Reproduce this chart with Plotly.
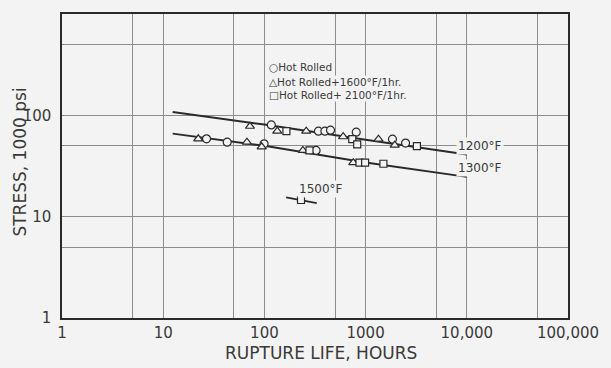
import plotly.graph_objects as go

# ---------------- data ----------------
# 1200 F test temperature
hr_1200_x = [117, 342, 396, 450, 808, 1842, 2483]
hr_1200_y = [80.4, 69.7, 69.7, 71.3, 68.2, 58.2, 53.2]
t16_1200_x = [72, 134, 259, 600, 1340, 1940]
t16_1200_y = [78, 69.7, 69.7, 61.5, 58.2, 50.8]
t21_1200_x = [165, 738, 826, 3214]
t21_1200_y = [69.7, 58.2, 51.6, 49.7]
fit_1200_x = [12.4, 100, 1000, 10000]
fit_1200_y = [108, 81, 57.5, 41]

# 1300 F test temperature
hr_1300_x = [26.8, 42.9, 99.3, 324]
hr_1300_y = [58.6, 54.4, 52.3, 45.1]
t16_1300_x = [22.2, 67.2, 94, 240, 755]
t16_1300_y = [58.6, 54.4, 48.9, 45.1, 34.1]
t21_1300_x = [279, 870, 989, 1500]
t21_1300_y = [45.1, 34.1, 34.1, 33.3]
fit_1300_x = [12.4, 100, 1000, 10000]
fit_1300_y = [66, 50, 34.3, 24.7]

# 1500 F test temperature
t21_1500_x = [230]
t21_1500_y = [14.6]
fit_1500_x = [164, 329]
fit_1500_y = [15.5, 13.6]

x_tickvals = [1, 5, 10, 50, 100, 500, 1000, 5000, 10000, 50000, 100000]
x_ticktext = ["1", "", "10", "", "100", "", "1000", "", "10,000", "", "100,000"]
y_tickvals = [1, 5, 10, 50, 100, 500, 1000]
y_ticktext = ["1", "", "10", "", "100", "", ""]

legend_labels = ["○Hot Rolled", "△Hot Rolled+1600°F/1hr.", "□Hot Rolled+ 2100°F/1hr."]
temp_labels = ["1200°F", "1300°F", "1500°F"]

# ---------------- styling ----------------
BG = "#f3f3f3"
INK = "#2a2a2a"
TXT = "#3a3a3a"
GRID = "#8c8c8c"
FONT = "DejaVu Sans"

fig = go.Figure()

for fx, fy in [(fit_1200_x, fit_1200_y), (fit_1300_x, fit_1300_y), (fit_1500_x, fit_1500_y)]:
    fig.add_trace(go.Scatter(x=fx, y=fy, mode="lines",
                             line=dict(color=INK, width=2), showlegend=False,
                             hoverinfo="skip"))

def pts(x, y, sym, size):
    fig.add_trace(go.Scatter(x=x, y=y, mode="markers", showlegend=False,
                             marker=dict(symbol=sym, size=size, color=BG,
                                         line=dict(color=INK, width=1.2))))

pts(hr_1200_x, hr_1200_y, "circle", 8)
pts(t16_1200_x, t16_1200_y, "triangle-up", 8)
pts(t21_1200_x, t21_1200_y, "square", 7)
pts(hr_1300_x, hr_1300_y, "circle", 8)
pts(t16_1300_x, t16_1300_y, "triangle-up", 8)
pts(t21_1300_x, t21_1300_y, "square", 7)
pts(t21_1500_x, t21_1500_y, "square", 7)

axis_common = dict(type="log", showgrid=True, gridcolor=GRID, gridwidth=1,
                   showline=True, linecolor=INK, linewidth=1.6, mirror=True,
                   ticks="", zeroline=False,
                   tickfont=dict(family=FONT, size=15, color=TXT))

fig.update_xaxes(**axis_common, range=[0, 5], tickmode="array",
                 tickvals=x_tickvals, ticktext=x_ticktext)
fig.update_yaxes(**axis_common, range=[0, 3], tickmode="array",
                 tickvals=y_tickvals, ticktext=y_ticktext, ticklabelstandoff=6)

ann = []
# legend block
for i, (lbl, ly) in enumerate(zip(legend_labels, [2.480, 2.333, 2.203])):
    ann.append(dict(x=2.039, y=ly, xref="x", yref="y", text=lbl, showarrow=False,
                    xanchor="left", yanchor="middle", bgcolor=BG, borderpad=0,
                    font=dict(family=FONT, size=10.5, color=TXT)))
# temperature labels
for lbl, lx, ly in zip(temp_labels, [4.127, 4.127, 2.556], [1.696, 1.483, 1.275]):
    ann.append(dict(x=lx, y=ly, xref="x", yref="y", text=lbl, showarrow=False,
                    xanchor="center", yanchor="middle", bgcolor=BG, borderpad=1,
                    font=dict(family=FONT, size=12, color=TXT)))
# axis titles
ann.append(dict(x=0.511, y=-0.114, xref="paper", yref="paper",
                text="RUPTURE LIFE, HOURS", showarrow=False,
                xanchor="center", yanchor="middle",
                font=dict(family=FONT, size=17, color=TXT)))
ann.append(dict(x=-0.082, y=0.513, xref="paper", yref="paper",
                text="STRESS, 1000 psi", showarrow=False, textangle=-90,
                xanchor="center", yanchor="middle",
                font=dict(family=FONT, size=17, color=TXT)))

fig.update_layout(width=611, height=368, autosize=False,
                  margin=dict(l=62, r=34, t=12, b=50),
                  paper_bgcolor=BG, plot_bgcolor=BG,
                  annotations=ann, showlegend=False)

fig.write_html("out.html",
               config={"displayModeBar": False, "staticPlot": True},
               post_script="document.documentElement.style.overflow='hidden';"
                           "document.documentElement.style.background='#f3f3f3';"
                           "document.body.style.margin='0';"
                           "document.body.style.height='368px';"
                           "document.body.style.background='#f3f3f3';"
                           "document.body.style.overflow='hidden';")
